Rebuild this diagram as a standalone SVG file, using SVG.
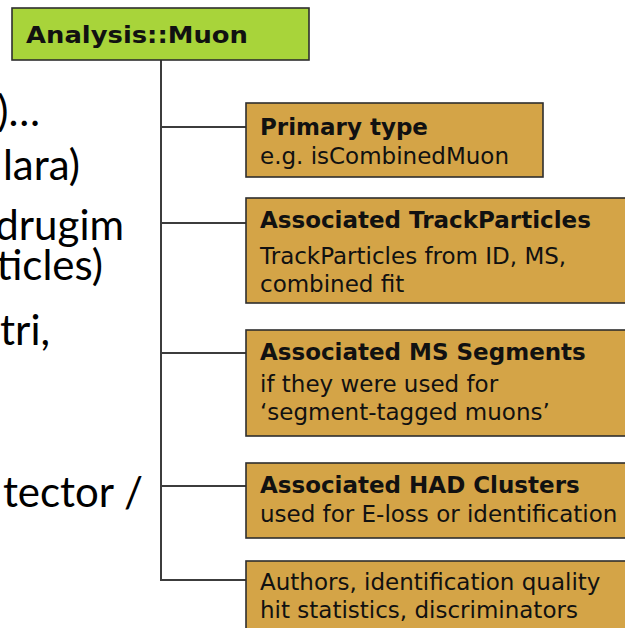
<svg xmlns="http://www.w3.org/2000/svg" width="625" height="628" viewBox="0 0 625 628">
<style>
.bg{fill:#ffffff}
.root{fill:#a8d43a;stroke:#2e2e2e;stroke-width:1.6}
.box{fill:#d4a447;stroke:#2e2e2e;stroke-width:1.6}
.conn{stroke:#3c3c3c;stroke-width:2;fill:none}
.t{font-family:"DejaVu Sans",Verdana,sans-serif;font-size:23px;fill:#111}
.b{font-weight:bold}
.side{font-family:Lato,"Open Sans",Calibri,sans-serif;font-size:42px;fill:#000;text-anchor:end}
</style>
<rect class="bg" x="0" y="0" width="625" height="628"/>
<g id="side-text">
<text class="side" x="40" y="126">)…</text>
<text class="side" x="80" y="180">lara)</text>
<text class="side" x="124" y="240">drugim</text>
<text class="side" x="103" y="280">ticles)</text>
<text class="side" x="50" y="345">tri,</text>
<text class="side" x="143" y="507">tector /</text>
</g>
<g id="connectors">
<path class="conn" d="M161,60 V580 H246"/>
<path class="conn" d="M161,127 H246"/>
<path class="conn" d="M161,223 H246"/>
<path class="conn" d="M161,353 H246"/>
<path class="conn" d="M161,486 H246"/>
</g>
<g id="root">
<rect class="root" x="12" y="8" width="297" height="52"/>
<text class="t b" x="26" y="43" font-size="24" textLength="222" lengthAdjust="spacingAndGlyphs">Analysis::Muon</text>
</g>
<g id="primary-type">
<rect class="box" x="246" y="103" width="297" height="74"/>
<text class="t b" x="260" y="135">Primary type</text>
<text class="t" x="260" y="164">e.g. isCombinedMuon</text>
</g>
<g id="track-particles">
<rect class="box" x="246" y="198" width="390" height="105"/>
<text class="t b" x="260" y="228">Associated TrackParticles</text>
<text class="t" x="260" y="264">TrackParticles from ID, MS,</text>
<text class="t" x="260" y="292">combined fit</text>
</g>
<g id="ms-segments">
<rect class="box" x="246" y="330" width="390" height="106"/>
<text class="t b" x="260" y="360">Associated MS Segments</text>
<text class="t" x="260" y="392">if they were used for</text>
<text class="t" x="260" y="420">‘segment-tagged muons’</text>
</g>
<g id="had-clusters">
<rect class="box" x="246" y="463" width="390" height="75"/>
<text class="t b" x="260" y="493">Associated HAD Clusters</text>
<text class="t" x="260" y="522">used for E-loss or identification</text>
</g>
<g id="authors">
<rect class="box" x="246" y="561" width="390" height="80"/>
<text class="t" x="260" y="590">Authors, identification quality</text>
<text class="t" x="260" y="618">hit statistics, discriminators</text>
</g>
</svg>
